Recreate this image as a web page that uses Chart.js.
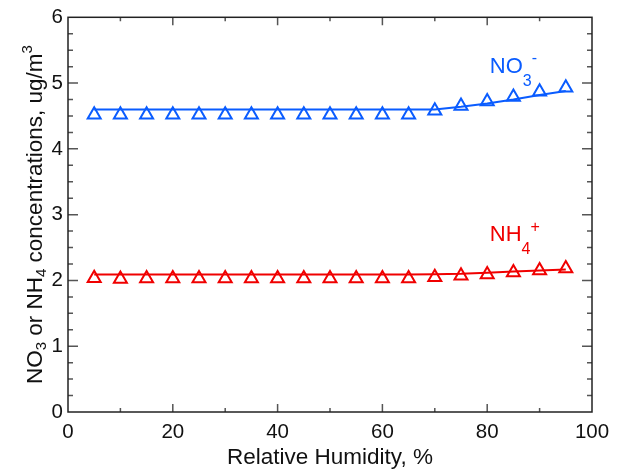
<!DOCTYPE html>
<html>
<head>
<meta charset="utf-8">
<script src="https://cdn.jsdelivr.net/npm/chart.js@4.4.0/dist/chart.umd.min.js"></script>
<style>
html, body { margin: 0; padding: 0; background: #fff; }
</style>
</head>
<body>
<canvas id="myChart" width="622" height="474"></canvas>
<script>
// Datos
const humidity = [5, 10, 15, 20, 25, 30, 35, 40, 45, 50, 55, 60, 65, 70, 75, 80, 85, 90, 95];
const no3Obs = [4.52, 4.52, 4.52, 4.52, 4.52, 4.52, 4.52, 4.52, 4.52, 4.52, 4.52, 4.52, 4.52, 4.58, 4.65, 4.72, 4.79, 4.87, 4.93];
const no3Fit = [4.60, 4.60, 4.60, 4.60, 4.60, 4.60, 4.60, 4.60, 4.60, 4.60, 4.60, 4.60, 4.60, 4.60, 4.64, 4.69, 4.75, 4.82, 4.88];
const nh4Obs = [2.035, 2.02, 2.03, 2.03, 2.03, 2.03, 2.03, 2.03, 2.03, 2.03, 2.03, 2.03, 2.03, 2.05, 2.07, 2.09, 2.12, 2.15, 2.18];
const nh4Fit = [2.09, 2.09, 2.09, 2.09, 2.09, 2.09, 2.09, 2.09, 2.09, 2.09, 2.09, 2.09, 2.09, 2.095, 2.10, 2.115, 2.135, 2.15, 2.165];
const xTicks = [0, 20, 40, 60, 80, 100];
const yTicks = [0, 1, 2, 3, 4, 5, 6];

const BLUE = '#0a5cff';
const RED = '#f00000';
const FONT = "'Liberation Sans', Arial, Helvetica, sans-serif";

const toXY = (xs, ys) => xs.map((x, i) => ({ x: x, y: ys[i] }));

// dibuja texto con subindices / superindices
function richText(ctx, parts, x, y) {
    let cx = x;
    parts.forEach(p => {
        ctx.font = p.size + 'px ' + FONT;
        ctx.fillText(p.t, cx, y + (p.dy || 0));
        cx += ctx.measureText(p.t).width;
    });
}
function richWidth(ctx, parts) {
    let w = 0;
    parts.forEach(p => {
        ctx.font = p.size + 'px ' + FONT;
        w += ctx.measureText(p.t).width;
    });
    return w;
}

const framePlugin = {
    id: 'frame',
    afterDatasetsDraw(chart) {
        const ctx = chart.ctx;
        const a = chart.chartArea;
        const sx = chart.scales.x, sy = chart.scales.y;
        ctx.save();
        // ticks hacia dentro
        ctx.strokeStyle = '#555';
        ctx.lineWidth = 1.5;
        ctx.beginPath();
        for (let v = 10; v < 100; v += 10) {
            const px = sx.getPixelForValue(v);
            const len = v % 20 === 0 ? 8 : 4;
            ctx.moveTo(px, a.bottom); ctx.lineTo(px, a.bottom - len);
            ctx.moveTo(px, a.top); ctx.lineTo(px, a.top + len);
        }
        for (let v = 0.25; v < 6; v += 0.25) {
            const py = sy.getPixelForValue(v);
            const len = Math.abs(v - Math.round(v)) < 0.01 ? 10 : 5;
            ctx.moveTo(a.left, py); ctx.lineTo(a.left + len, py);
            ctx.moveTo(a.right, py); ctx.lineTo(a.right - len, py);
        }
        ctx.stroke();
        // marco
        ctx.strokeStyle = '#222';
        ctx.lineWidth = 1.5;
        ctx.strokeRect(a.left, a.top, a.right - a.left, a.bottom - a.top);

        // etiquetas de las series
        ctx.textBaseline = 'alphabetic';
        ctx.textAlign = 'left';
        ctx.fillStyle = BLUE;
        richText(ctx, [
            { t: 'NO', size: 22 },
            { t: '3', size: 16, dy: 13 },
            { t: '-', size: 16, dy: -10 }
        ], sx.getPixelForValue(80.5), sy.getPixelForValue(5.15));
        ctx.fillStyle = RED;
        richText(ctx, [
            { t: 'NH', size: 22 },
            { t: '4', size: 16, dy: 13 },
            { t: '+', size: 16, dy: -9 }
        ], sx.getPixelForValue(80.5), sy.getPixelForValue(2.6));

        // titulo del eje y
        const yParts = [
            { t: 'NO', size: 22.5 },
            { t: '3', size: 15, dy: 4 },
            { t: ' or NH', size: 22.5 },
            { t: '4', size: 15, dy: 4 },
            { t: ' concentrations, ug/m', size: 22.5 },
            { t: '3', size: 15, dy: -10 }
        ];
        ctx.fillStyle = '#111';
        ctx.translate(42, (a.top + a.bottom) / 2);
        ctx.rotate(-Math.PI / 2);
        richText(ctx, yParts, -richWidth(ctx, yParts) / 2, 0);
        ctx.restore();
    }
};

const lineStyle = (color, data) => ({
    data: data,
    borderColor: color,
    borderWidth: 2,
    pointRadius: 0,
    fill: false,
    showLine: true
});
const markStyle = (color, data) => ({
    data: data,
    borderColor: color,
    backgroundColor: 'rgba(0,0,0,0)',
    borderWidth: 2,
    pointStyle: 'triangle',
    pointRadius: 7.5,
    showLine: false
});

const ctx = document.getElementById('myChart').getContext('2d');
const myChart = new Chart(ctx, {
    type: 'line',
    data: {
        datasets: [
            lineStyle(BLUE, toXY(humidity, no3Fit)),
            markStyle(BLUE, toXY(humidity, no3Obs)),
            lineStyle(RED, toXY(humidity, nh4Fit)),
            markStyle(RED, toXY(humidity, nh4Obs))
        ]
    },
    options: {
        responsive: false,
        animation: false,
        layout: { padding: { top: 12, right: 30, left: 0, bottom: 0 } },
        plugins: { legend: { display: false }, tooltip: { enabled: false } },
        scales: {
            x: {
                type: 'linear',
                min: 0,
                max: 100,
                afterBuildTicks: s => { s.ticks = xTicks.map(v => ({ value: v })); },
                afterFit: s => { s.height = 62; },
                grid: { display: true, drawOnChartArea: false, drawTicks: false },
                border: { display: false },
                ticks: { padding: 8, color: '#111', maxRotation: 0, font: { family: FONT, size: 20.5 } },
                title: {
                    display: true,
                    text: 'Relative Humidity, %',
                    color: '#111',
                    padding: { top: 0, bottom: 3 },
                    font: { family: FONT, size: 22.5 }
                }
            },
            y: {
                type: 'linear',
                min: 0,
                max: 6,
                afterBuildTicks: s => { s.ticks = yTicks.map(v => ({ value: v })); },
                afterFit: s => { s.width = 68; },
                grid: { display: true, drawOnChartArea: false, drawTicks: false },
                border: { display: false },
                ticks: { padding: 5, color: '#111', font: { family: FONT, size: 20.5 } }
            }
        }
    },
    plugins: [framePlugin]
});
</script>
</body>
</html>
